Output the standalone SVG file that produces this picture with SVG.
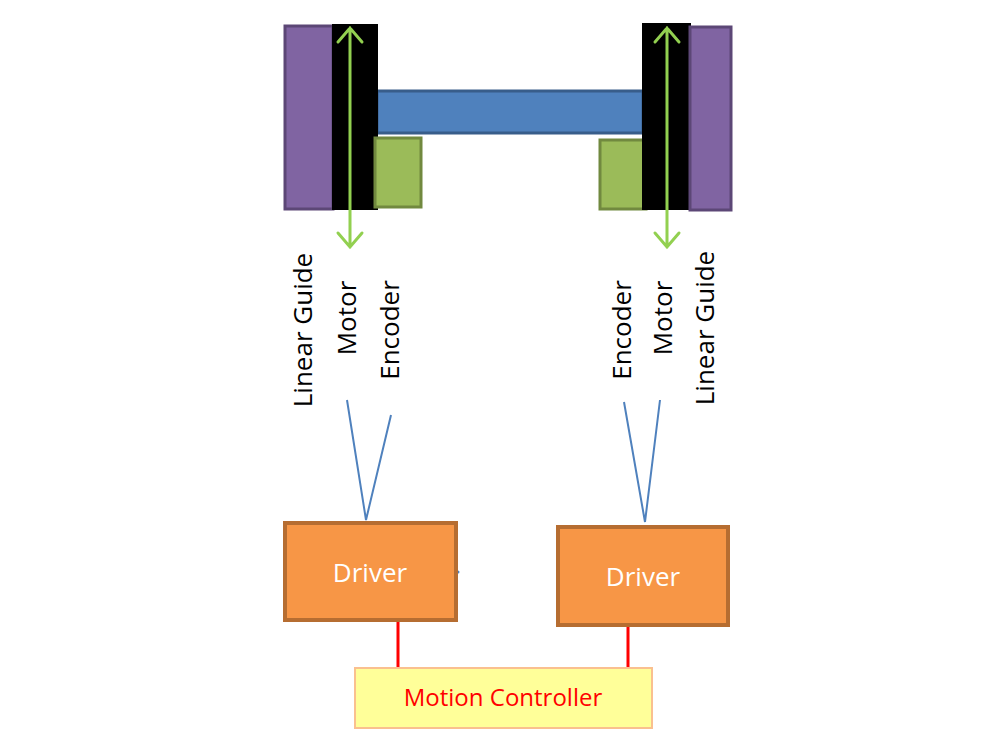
<svg xmlns="http://www.w3.org/2000/svg" width="1000" height="753" viewBox="0 0 1000 753">
<defs>
<style>
.guide{fill:#8064a2;stroke:#5c4776;stroke-width:3}
.motor{fill:#000;stroke:#000;stroke-width:2}
.enc{fill:#9bbb59;stroke:#71893f;stroke-width:3}
.arr{stroke:#92d050;stroke-width:3;fill:none;stroke-linecap:round}
.lbl{font-family:"Open Sans","Liberation Sans",sans-serif;font-size:26px;fill:#000;text-anchor:middle}
.drv{fill:#f79646;stroke:#b66d31;stroke-width:4}
.drvt{font-family:"Open Sans","Liberation Sans",sans-serif;font-size:26px;fill:#fff;text-anchor:middle}
.blue{stroke:#4f81bd;stroke-width:2;fill:none}
.red{stroke:#ff0000;stroke-width:3;fill:none}
</style>
</defs>
<rect width="1000" height="753" fill="#fff"/>
<g id="beam"><rect x="377" y="91" width="266" height="42" fill="#4f81bd" stroke="#385d8a" stroke-width="3"/></g>
<g id="left-guide"><rect class="guide" x="285" y="26" width="48" height="183"/></g>
<g id="left-motor"><rect class="motor" x="333" y="25" width="44" height="184"/></g>
<g id="left-encoder"><rect class="enc" x="375" y="138" width="46" height="69"/></g>
<g id="right-encoder"><rect class="enc" x="600" y="140" width="46" height="69"/></g>
<g id="right-motor"><rect class="motor" x="643" y="24" width="47" height="185"/></g>
<g id="right-guide"><rect class="guide" x="690" y="27" width="41" height="183"/></g>
<g id="arrows">
<path class="arr" d="M350 28V247M338 42L350 28L362 42M338 233L350 247L362 233"/>
<path class="arr" d="M667 28V247M655 42L667 28L679 42M655 233L667 247L679 233"/>
</g>
<g id="labels">
<text class="lbl" transform="translate(312,330) rotate(-90)">Linear Guide</text>
<text class="lbl" transform="translate(356,318) rotate(-90)">Motor</text>
<text class="lbl" transform="translate(399,330) rotate(-90)">Encoder</text>
<text class="lbl" transform="translate(631,330) rotate(-90)">Encoder</text>
<text class="lbl" transform="translate(672,318) rotate(-90)">Motor</text>
<text class="lbl" transform="translate(714,328) rotate(-90)">Linear Guide</text>
</g>
<g id="connectors">
<path class="blue" d="M347 400L366 520L391 415"/>
<path class="blue" d="M624 402L645 522L660 400"/>
<path class="red" d="M398 621V668M628 626V668"/>
<circle cx="458" cy="572" r="1.5" fill="#4f81bd"/>
</g>
<g id="driver-left"><rect class="drv" x="285" y="523" width="171" height="97"/><text class="drvt" x="370" y="582">Driver</text></g>
<g id="driver-right"><rect class="drv" x="558" y="527" width="170" height="98"/><text class="drvt" x="643" y="586">Driver</text></g>
<g id="controller"><rect x="355" y="668" width="297" height="60" fill="#ffff99" stroke="#fac08f" stroke-width="2"/><text x="503" y="706" font-family="'Open Sans','Liberation Sans',sans-serif" font-size="24" fill="#ff0000" text-anchor="middle">Motion Controller</text></g>
</svg>
